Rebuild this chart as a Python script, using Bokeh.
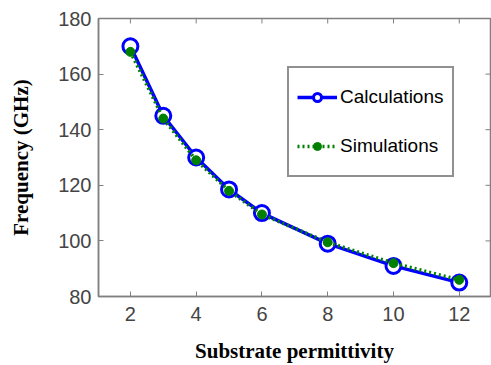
import math
from bokeh.plotting import figure
from bokeh.models import Range1d, Legend, LegendItem, FixedTicker
from bokeh.embed import file_html
from bokeh.resources import INLINE

permittivity = [2, 3, 4, 5, 6, 8, 10, 12]
calculations = [170, 145, 130, 118.5, 110, 99, 91, 85]
simulations = [168, 144, 129, 118, 109.5, 99.5, 92, 86]
x_ticks = [2, 4, 6, 8, 10, 12]
y_ticks = [80, 100, 120, 140, 160, 180]

X_MIN, X_MAX = 1.03, 12.95
Y_MIN, Y_MAX = 80, 180

p = figure(width=491, height=365, output_backend="svg", toolbar_location=None,
           x_range=Range1d(X_MIN, X_MAX), y_range=Range1d(Y_MIN, Y_MAX),
           min_border_left=98, min_border_right=1, min_border_top=18, min_border_bottom=69)
p.background_fill_color = "white"
p.border_fill_color = "white"
p.grid.visible = False
p.outline_line_color = "#808080"
p.outline_line_width = 1.5

axis_color = "#808080"
xax = p.xaxis[0]
yax = p.yaxis[0]
for ax in (xax, yax):
    ax.axis_line_color = axis_color
    ax.axis_line_width = 1.5
    ax.major_tick_in = 5
    ax.major_tick_out = 0
    ax.major_tick_line_color = axis_color
    ax.minor_tick_line_color = None
    ax.major_label_text_font = "Liberation Sans"
    ax.major_label_text_font_size = "20px"
    ax.major_label_text_color = "#444444"
    ax.axis_label_text_font = "Liberation Serif"
    ax.axis_label_text_font_style = "bold"
    ax.axis_label_text_font_size = "21px"
    ax.axis_label_text_color = "black"

xax.ticker = FixedTicker(ticks=x_ticks)
yax.ticker = FixedTicker(ticks=y_ticks)
xax.axis_label = "Substrate permittivity"
yax.axis_label = "Frequency (GHz)"
xax.major_label_standoff = 10
xax.axis_label_standoff = 15
yax.major_label_standoff = 7
yax.axis_label_standoff = 22

# inward ticks on the top and right frame edges (box style)
p.ray(x=x_ticks, y=[Y_MAX] * len(x_ticks), length=5, length_units="screen",
      angle=-math.pi / 2, line_color=axis_color, line_width=1)
p.ray(x=[X_MAX] * len(y_ticks), y=y_ticks, length=5, length_units="screen",
      angle=math.pi, line_color=axis_color, line_width=1)

calc_line = p.line(permittivity, calculations, line_color="#0000ff", line_width=3.5)
calc_pts = p.scatter(permittivity, calculations, marker="circle", size=15,
                     fill_color="white", line_color="#0000ff", line_width=3)
sim_line = p.line(permittivity, simulations, line_color="#008000", line_width=3.5,
                  line_dash="2 3")
sim_pts = p.scatter(permittivity, simulations, marker="circle", size=9,
                    fill_color="#008000", line_color="#008000")

legend = Legend(items=[
    LegendItem(label="Calculations", renderers=[calc_line, calc_pts]),
    LegendItem(label="Simulations", renderers=[sim_line, sim_pts]),
], location=(189, 119))
legend.label_text_font = "Liberation Sans"
legend.label_text_font_size = "19px"
legend.label_text_color = "black"
legend.border_line_color = "#222222"
legend.border_line_width = 2
legend.padding = 8
legend.spacing = 7
legend.glyph_width = 40
legend.glyph_height = 20
legend.label_standoff = 3
legend.label_height = 42
legend.margin = 0
p.add_layout(legend, "center")

open("out.html", "w").write(file_html(p, INLINE))
